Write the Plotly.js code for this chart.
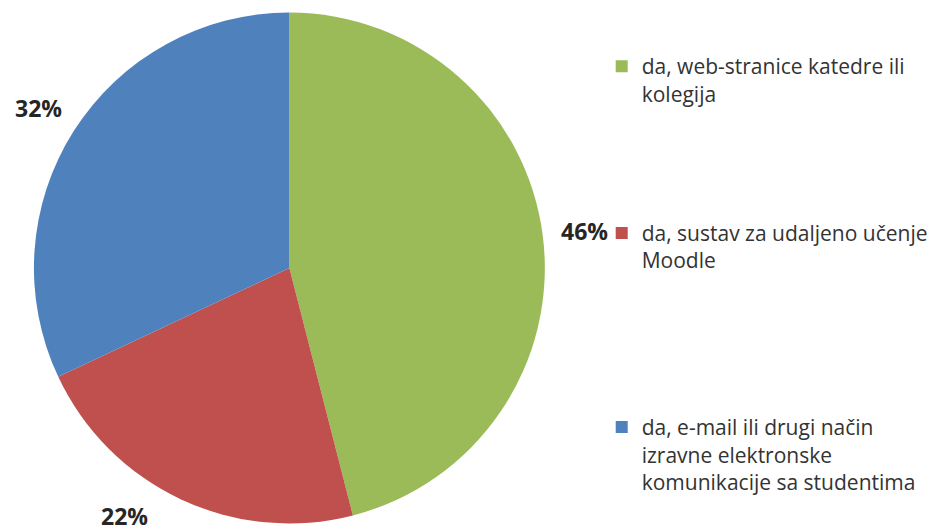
<!DOCTYPE html>
<html>
<head>
<meta charset="utf-8">
<script src="https://cdn.plot.ly/plotly-3.0.1.min.js"></script>
<style>html,body{margin:0;padding:0;background:#fff;}#chart{width:933px;height:531px;}</style>
</head>
<body>
<div id="chart"></div>
<script>
const categories = [
  "da, web-stranice katedre ili<br>kolegija",
  "da, sustav za udaljeno učenje<br>Moodle",
  "da, e-mail ili drugi način<br>izravne elektronske<br>komunikacije sa studentima"
];
const values = [46, 22, 32];
const colors = ["#9BBB59", "#C0504D", "#4F81BD"];

const W = 933, H = 531;
const cx = 290, cy = 268, R = 256;
const FONT = "'Open Sans', Lato, sans-serif";

// pad legend entries so they spread down the right side
const padLines = [4, 5, 0];
const legendLabels = categories.map((c, i) => c + "<br> ".repeat(padLines[i]));

const total = values.reduce((a, b) => a + b, 0);
let cum = 0;
const annotations = values.map((v, i) => {
  let mid = (cum + v / 2) / total * 2 * Math.PI;
  cum += v;
  const r = R + 42;
  let px = cx + r * Math.sin(mid);
  let py = cy - r * Math.cos(mid);
  const maxY = H - 15;
  if (py > maxY) {
    // slide along the label circle to stay inside the picture
    const c = (cy - maxY) / r;
    const s = Math.sin(mid) < 0 ? -Math.sqrt(1 - c * c) : Math.sqrt(1 - c * c);
    px = cx + r * s;
    py = maxY;
  }
  return {
    x: px / W, y: 1 - py / H, xref: "paper", yref: "paper",
    text: "<b>" + Math.round(v / total * 100) + "%</b>",
    showarrow: false, xanchor: "center", yanchor: "middle",
    font: {family: FONT, size: 23, color: "#262626"}
  };
});

const trace = {
  type: "pie",
  labels: legendLabels,
  values: values,
  sort: false,
  direction: "clockwise",
  rotation: 0,
  textinfo: "none",
  hoverinfo: "label+percent",
  marker: {colors: colors, line: {width: 0}},
  domain: {x: [(cx - R) / W, (cx + R) / W], y: [(H - cy - R) / H, (H - cy + R) / H]}
};

const layout = {
  width: W, height: H,
  margin: {l: 0, r: 0, t: 0, b: 0},
  paper_bgcolor: "#ffffff",
  showlegend: true,
  legend: {
    x: 603 / W, xanchor: "left", y: 1 - 46 / H, yanchor: "top",
    valign: "top",
    font: {family: FONT, size: 21, color: "#333333"},
    bgcolor: "rgba(0,0,0,0)"
  },
  annotations: annotations
};

Plotly.newPlot("chart", [trace], layout, {displayModeBar: false, staticPlot: true});
</script>
</body>
</html>
